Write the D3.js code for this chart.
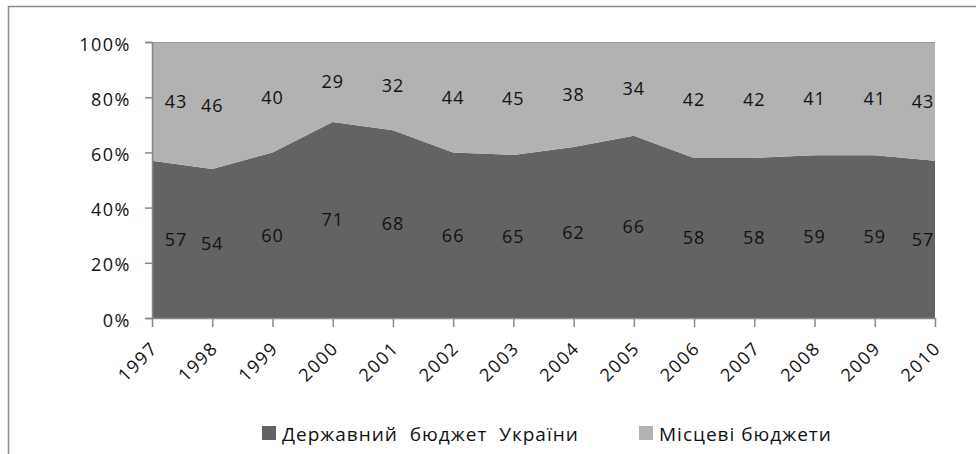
<!DOCTYPE html>
<html>
<head>
<meta charset="utf-8">
<script src="https://cdn.jsdelivr.net/npm/d3@7"></script>
<style>
  body { margin: 0; background: #fff; }
  svg text { font-family: "Open Sans", "Noto Sans", sans-serif; fill: #111; }
</style>
</head>
<body>
<script>
// data
var years = [1997, 1998, 1999, 2000, 2001, 2002, 2003, 2004, 2005, 2006, 2007, 2008, 2009, 2010];
var stateBudget = [57, 54, 60, 71, 68, 66, 65, 62, 66, 58, 58, 59, 59, 57];
var localBudget = [43, 46, 40, 29, 32, 44, 45, 38, 34, 42, 42, 41, 41, 43];
var seriesNames = ["Державний  бюджет  України", "Місцеві бюджети"];
var seriesColors = ["#636363", "#b2b2b2"];
var yTicks = [0, 0.2, 0.4, 0.6, 0.8, 1];

var width = 976, height = 454;
var margin = { top: 42, right: 41, bottom: 136, left: 152 };

var svg = d3.select("body")
    .append("svg")
    .attr("width", width)
    .attr("height", height);

// outer chart frame (only left and top visible in crop)
svg.append("path")
    .attr("d", "M8.5,454 L8.5,6.5 L976,6.5")
    .attr("fill", "none")
    .attr("stroke", "#8a8a8a")
    .attr("stroke-width", 1.5);

var g = svg.append("g")
    .attr("transform", "translate(" + margin.left + "," + margin.top + ")");

var w = width - margin.left - margin.right;
var h = height - margin.top - margin.bottom;

var x = d3.scaleLinear()
    .domain(d3.extent(years))
    .range([0, w]);
var y = d3.scaleLinear()
    .domain([0, 1])
    .range([h, 0]);

// stack as 100% shares
var table = years.map(function(yr, i) {
    return { year: yr, state: stateBudget[i], local: localBudget[i] };
});
var stack = d3.stack()
    .keys(["state", "local"])
    .offset(d3.stackOffsetExpand);
var layers = stack(table);

var area = d3.area()
    .x(function(d) { return x(d.data.year); })
    .y0(function(d) { return y(d[0]); })
    .y1(function(d) { return y(d[1]); });

g.selectAll(".layer")
    .data(layers)
    .enter()
    .append("path")
    .attr("class", "layer")
    .attr("d", area)
    .attr("fill", function(d, i) { return seriesColors[i]; });

// top edge of plot
g.append("line")
    .attr("x1", 0).attr("x2", w)
    .attr("y1", 0.5).attr("y2", 0.5)
    .attr("stroke", "#999")
    .attr("stroke-width", 1);

// y axis
var yAxis = g.append("g")
    .call(d3.axisLeft(y)
        .tickValues(yTicks)
        .tickSize(7)
        .tickPadding(14)
        .tickFormat(d3.format(".0%")));
yAxis.selectAll("path, line").attr("stroke", "#888").attr("stroke-width", 1.5);
yAxis.selectAll("text")
    .style("font-size", "18px")
    .style("letter-spacing", "1.5px")
    .attr("dy", "0.45em")
    .attr("fill", "#111");

// x axis
var xAxis = g.append("g")
    .attr("transform", "translate(0," + h + ")")
    .call(d3.axisBottom(x)
        .tickValues(years)
        .tickSize(9)
        .tickSizeOuter(0)
        .tickFormat(d3.format("d")));
xAxis.selectAll("path, line").attr("stroke", "#888").attr("stroke-width", 1.5);
xAxis.selectAll("text")
    .style("font-size", "18px")
    .style("letter-spacing", "1.5px")
    .attr("fill", "#111")
    .attr("text-anchor", "end")
    .attr("x", 0)
    .attr("y", 0)
    .attr("dy", "0.35em")
    .attr("transform", "translate(2,27) rotate(-45)");

// data labels in the middle of each band
layers.forEach(function(layer, li) {
    g.selectAll(".lbl" + li)
        .data(layer)
        .enter()
        .append("text")
        .attr("class", "lbl" + li)
        .attr("x", function(d, i) {
            var px = x(d.data.year);
            if (i === 0) px += 24;
            if (i === layer.length - 1) px -= 12;
            return px;
        })
        .attr("y", function(d) { return y((d[0] + d[1]) / 2); })
        .attr("dy", "0.35em")
        .attr("text-anchor", "middle")
        .style("font-size", "18px")
        .style("letter-spacing", "1px")
        .text(function(d) { return li === 0 ? d.data.state : d.data.local; });
});

// legend
var legendX = [262, 639];
var legend = svg.selectAll(".legend")
    .data(seriesNames)
    .enter()
    .append("g")
    .attr("class", "legend")
    .attr("transform", function(d, i) { return "translate(" + legendX[i] + ",426)"; });
legend.append("rect")
    .attr("width", 14)
    .attr("height", 14)
    .attr("fill", function(d, i) { return seriesColors[i]; });
legend.append("text")
    .attr("x", 20)
    .attr("y", 8)
    .attr("dy", "0.35em")
    .style("font-size", "19px")
    .style("letter-spacing", "1px")
    .style("white-space", "pre")
    .attr("xml:space", "preserve")
    .text(function(d) { return d; });
</script>
</body>
</html>
